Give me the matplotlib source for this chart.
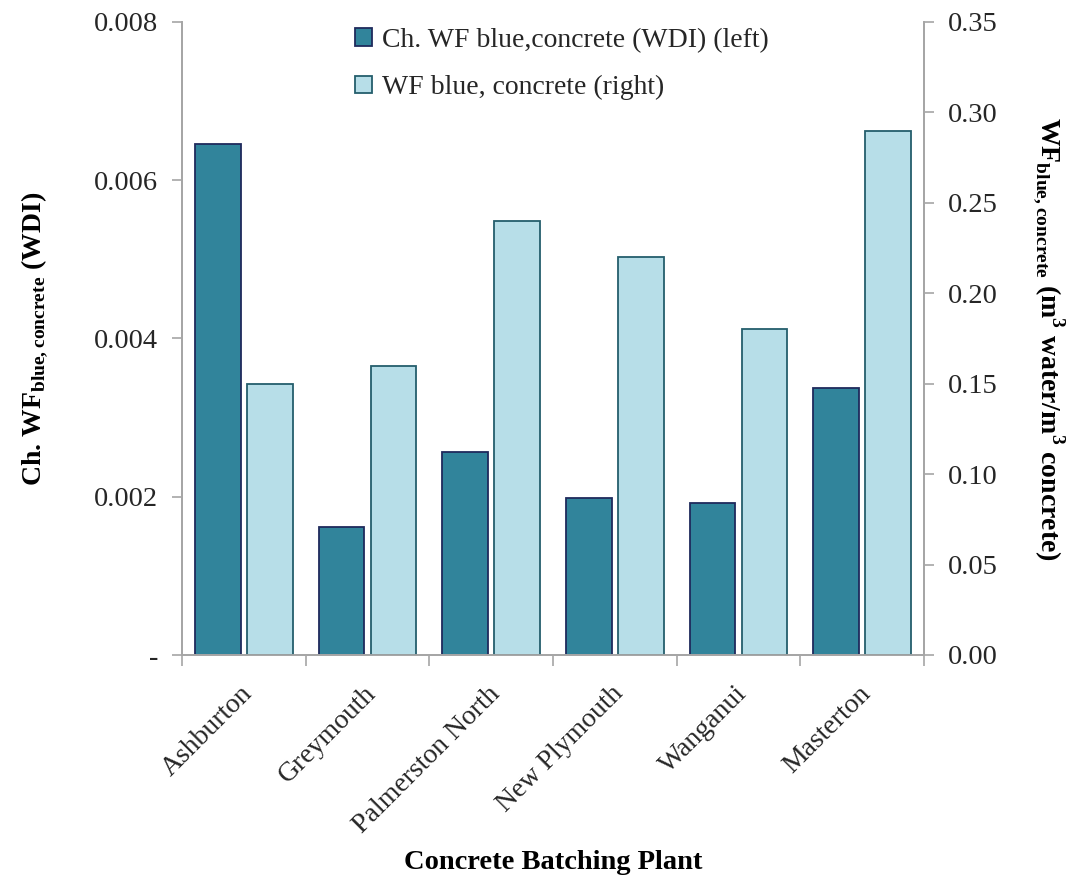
import numpy as np
import matplotlib
matplotlib.use("Agg")
import matplotlib.pyplot as plt
from matplotlib.ticker import FuncFormatter, FormatStrFormatter

# data
plants = ["Ashburton", "Greymouth", "Palmerston North", "New Plymouth", "Wanganui", "Masterton"]
ch_wf_wdi = [0.00646, 0.00162, 0.00257, 0.00199, 0.00192, 0.00337]   # left axis
wf_blue = [0.150, 0.160, 0.240, 0.220, 0.180, 0.290]                # right axis

plt.rcParams['font.family'] = ['Liberation Serif', 'DejaVu Serif']
plt.rcParams['mathtext.fontset'] = 'custom'
plt.rcParams['mathtext.rm'] = 'Liberation Serif'
plt.rcParams['mathtext.bf'] = 'Liberation Serif:bold'

dark = '#31849B'
dark_edge = '#1F2A5C'
light = '#B7DEE8'
light_edge = '#245E6C'
spine_col = '#A6A6A6'
txt_col = '#262626'

fig = plt.figure(figsize=(10.75, 8.8), dpi=100)
ax = fig.add_axes([182/1075, 1-655/880, (924-182)/1075, (655-22)/880])
ax2 = ax.twinx()

x = np.arange(len(plants))
w = 0.37
b1 = ax.bar(x - 0.21, ch_wf_wdi, w, color=dark, edgecolor=dark_edge, linewidth=1.3,
            label='Ch. WF blue,concrete (WDI) (left)')
b2 = ax2.bar(x + 0.21, wf_blue, w, color=light, edgecolor=light_edge, linewidth=1.3,
             label='WF blue, concrete (right)')

ax.set_xlim(-0.5, len(plants) - 0.5)
ax.set_ylim(0, 0.008)
ax2.set_ylim(0, 0.35)
ax.set_yticks([0, 0.002, 0.004, 0.006, 0.008])
ax.yaxis.set_major_formatter(FuncFormatter(lambda v, p: '-' if v == 0 else '%.3f' % v))
ax2.set_yticks(np.arange(0, 0.351, 0.05))
ax2.yaxis.set_major_formatter(FormatStrFormatter('%.2f'))

# category separators as x ticks (excel style)
ax.set_xticks(np.arange(-0.5, len(plants), 1.0))
ax.set_xticklabels([])
ax.tick_params(axis='x', length=8, color=spine_col, width=1.2)
for i, name in enumerate(plants):
    ax.annotate(name, xy=(i, 0), xycoords=('data', 'axes fraction'),
                xytext=(-3, -19), textcoords='offset points',
                rotation=45, ha='right', va='top', rotation_mode='anchor',
                fontsize=20, color=txt_col)

for a in (ax, ax2):
    a.spines['top'].set_visible(False)
    for s in ('left', 'right', 'bottom'):
        a.spines[s].set_color(spine_col)
        a.spines[s].set_linewidth(1.3)
ax.tick_params(axis='y', length=7, color=spine_col, width=1.2, labelsize=20.5,
               labelcolor=txt_col, pad=10)
ax2.tick_params(axis='y', length=7, color=spine_col, width=1.2, labelsize=20.5,
                labelcolor=txt_col, pad=10)

ax.set_ylabel(r'Ch. WF$_{\mathbf{blue,concrete}}$ (WDI)', fontsize=20,
              fontweight='bold', labelpad=32)
ax2.set_ylabel(r'WF$_{\mathbf{blue,concrete}}$ (m$^{\mathbf{3}}$ water/m$^{\mathbf{3}}$ concrete)',
               fontsize=20, fontweight='bold', rotation=270, labelpad=50)
fig.text(0.5 * (182 + 924) / 1075, 1 - 862/880, 'Concrete Batching Plant',
         fontsize=20.5, fontweight='bold', ha='center', va='center')

leg = ax.legend([b1, b2], [b1.get_label(), b2.get_label()], loc='upper left',
                bbox_to_anchor=(0.2, 1.03), frameon=False, fontsize=20,
                handlelength=0.6, handleheight=0.6, handletextpad=0.35,
                labelspacing=0.8)
for t in leg.get_texts():
    t.set_color(txt_col)

fig.savefig('out.png', dpi=100)
